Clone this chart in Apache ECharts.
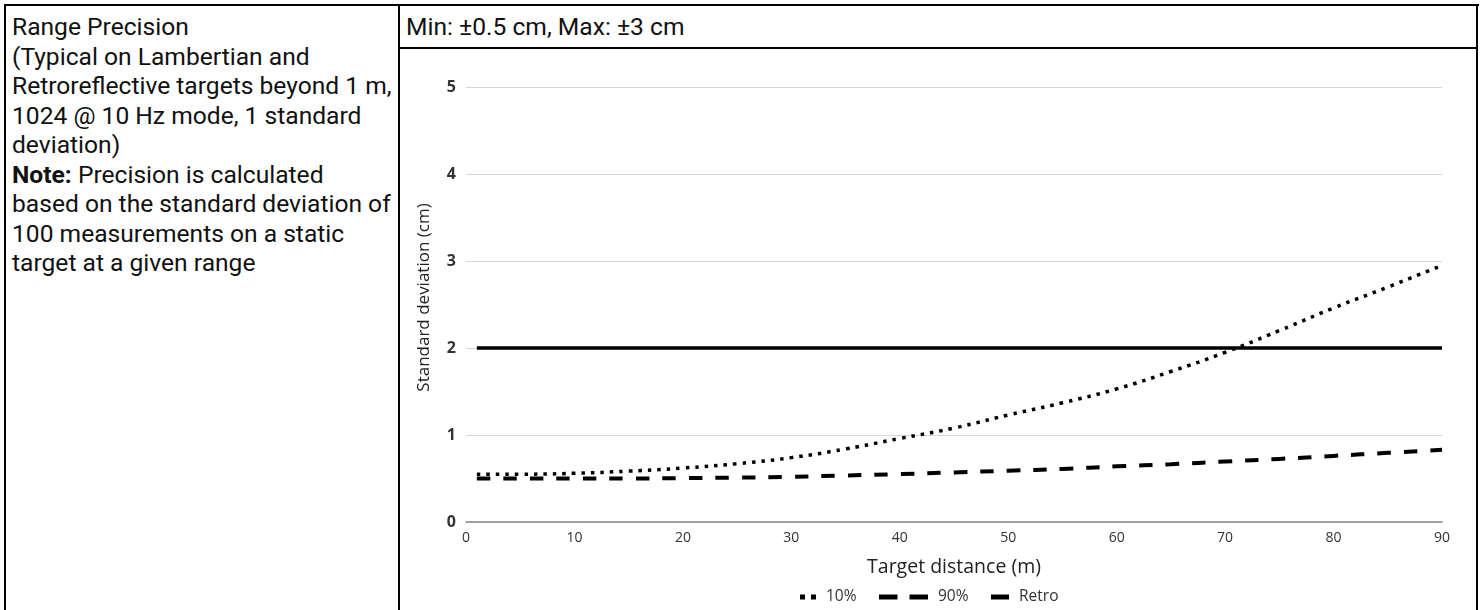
<!DOCTYPE html>
<html>
<head>
<meta charset="utf-8">
<script src="https://cdn.jsdelivr.net/npm/echarts@6/dist/echarts.min.js"></script>
<style>
  html, body { margin: 0; padding: 0; background: #fff; }
  body { width: 1484px; height: 610px; position: relative; overflow: hidden; }
  .b { position: absolute; background: #000; }
  .txt { position: absolute; font-family: Roboto, sans-serif; font-size: 24.6px; line-height: 29.5px; color: #111; white-space: nowrap; }
  #chart { position: absolute; left: 0; top: 0; width: 1484px; height: 610px; }
</style>
</head>
<body>
<div class="b" style="left:4px; top:4px; width:1475px; height:2px;"></div>
<div class="b" style="left:4px; top:4px; width:2px; height:606px;"></div>
<div class="b" style="left:1476px; top:4px; width:2px; height:606px;"></div>
<div class="b" style="left:398px; top:4px; width:2px; height:606px;"></div>
<div class="b" style="left:399px; top:47px; width:1078px; height:2px;"></div>

<div class="txt" style="left:12px; top:12px;">Range Precision<br>(Typical on Lambertian and<br>Retroreflective targets beyond 1 m,<br>1024 @ 10 Hz mode, 1 standard<br>deviation)<br><b>Note:</b> Precision is calculated<br>based on the standard deviation of<br>100 measurements on a static<br>target at a given range</div>
<div class="txt" style="left:406px; top:12px;">Min: ±0.5 cm, Max: ±3 cm</div>

<div id="chart"></div>
<script>
// Target distance (m)
const distances = [1, 5, 10, 15, 20, 25, 30, 35, 40, 45, 50, 55, 60, 65, 70, 75, 80, 85, 90];
// Standard deviation (cm)
const tenPct     = [0.55, 0.55, 0.56, 0.585, 0.62, 0.67, 0.74, 0.84, 0.96, 1.08, 1.23, 1.37, 1.53, 1.73, 1.95, 2.2, 2.46, 2.7, 2.95];
const ninetyPct  = [0.50, 0.50, 0.50, 0.50, 0.505, 0.51, 0.52, 0.535, 0.55, 0.57, 0.59, 0.61, 0.64, 0.665, 0.695, 0.725, 0.76, 0.795, 0.83];
const retro      = [2, 2, 2, 2, 2, 2, 2, 2, 2, 2, 2, 2, 2, 2, 2, 2, 2, 2, 2];
const seriesNames = ['10%', '90%', 'Retro'];
const xTicks = [0, 10, 20, 30, 40, 50, 60, 70, 80, 90];
const yTicks = [0, 1, 2, 3, 4, 5];

const zip = (ys) => distances.map((x, i) => [x, ys[i]]);
const chartFont = '"Open Sans", sans-serif';
const legendText = { fontFamily: chartFont, fontSize: 15.5, color: '#333', padding: [0, 0, 0, 5] };

const chart = echarts.init(document.getElementById('chart'), null, { renderer: 'canvas' });
chart.setOption({
  animation: false,
  backgroundColor: 'transparent',
  grid: { left: 466, right: 42, top: 87, bottom: 88, containLabel: false },
  xAxis: {
    type: 'value',
    min: xTicks[0], max: xTicks[xTicks.length - 1], interval: 10,
    name: 'Target distance (m)',
    nameLocation: 'middle',
    nameGap: 35,
    nameTextStyle: { fontFamily: chartFont, fontSize: 19.5, color: '#222' },
    axisLine: { show: true, lineStyle: { color: '#888', width: 1.5 } },
    axisTick: { show: false },
    splitLine: { show: false },
    axisLabel: { fontFamily: chartFont, fontSize: 14, color: '#333', margin: 9 }
  },
  yAxis: {
    type: 'value',
    min: yTicks[0], max: yTicks[yTicks.length - 1], interval: 1,
    name: 'Standard deviation (cm)',
    nameLocation: 'middle',
    nameGap: 33,
    nameTextStyle: { fontFamily: chartFont, fontSize: 17, color: '#222', padding: [0, 0, 0, 14] },
    axisLine: { show: false },
    axisTick: { show: false },
    splitLine: { show: true, lineStyle: { color: '#d6d6d6', width: 1 } },
    axisLabel: { fontFamily: chartFont, fontSize: 16, fontWeight: 'bold', color: '#333', margin: 10 }
  },
  legend: [
    {
      data: [{ name: seriesNames[0], icon: 'path://M0,0h5v5h-5z M11,0h5v5h-5z' }],
      left: 800, top: 589, padding: 0, itemWidth: 16, itemHeight: 5,
      selectedMode: false, textStyle: legendText
    },
    {
      data: [{ name: seriesNames[1], icon: 'path://M0,0h18.5v5h-18.5z M30.5,0h18.5v5h-18.5z' }],
      left: 879, top: 589, padding: 0, itemWidth: 49, itemHeight: 5,
      selectedMode: false, textStyle: legendText
    },
    {
      data: [{ name: seriesNames[2], icon: 'rect' }],
      left: 991, top: 589, padding: 0, itemWidth: 18, itemHeight: 5,
      selectedMode: false, textStyle: legendText
    }
  ],
  series: [
    {
      name: seriesNames[0], type: 'line', data: zip(tenPct),
      smooth: true, symbol: 'none',
      itemStyle: { color: '#000' },
      lineStyle: { color: '#000', width: 3.5, type: [3.5, 6], cap: 'butt' },
      z: 3
    },
    {
      name: seriesNames[1], type: 'line', data: zip(ninetyPct),
      smooth: true, symbol: 'none',
      itemStyle: { color: '#000' },
      lineStyle: { color: '#000', width: 4, type: [13.5, 13], cap: 'butt' },
      z: 2
    },
    {
      name: seriesNames[2], type: 'line', data: zip(retro),
      symbol: 'none',
      itemStyle: { color: '#000' },
      lineStyle: { color: '#000', width: 3.5, type: 'solid' },
      z: 2
    }
  ]
});
</script>
</body>
</html>
